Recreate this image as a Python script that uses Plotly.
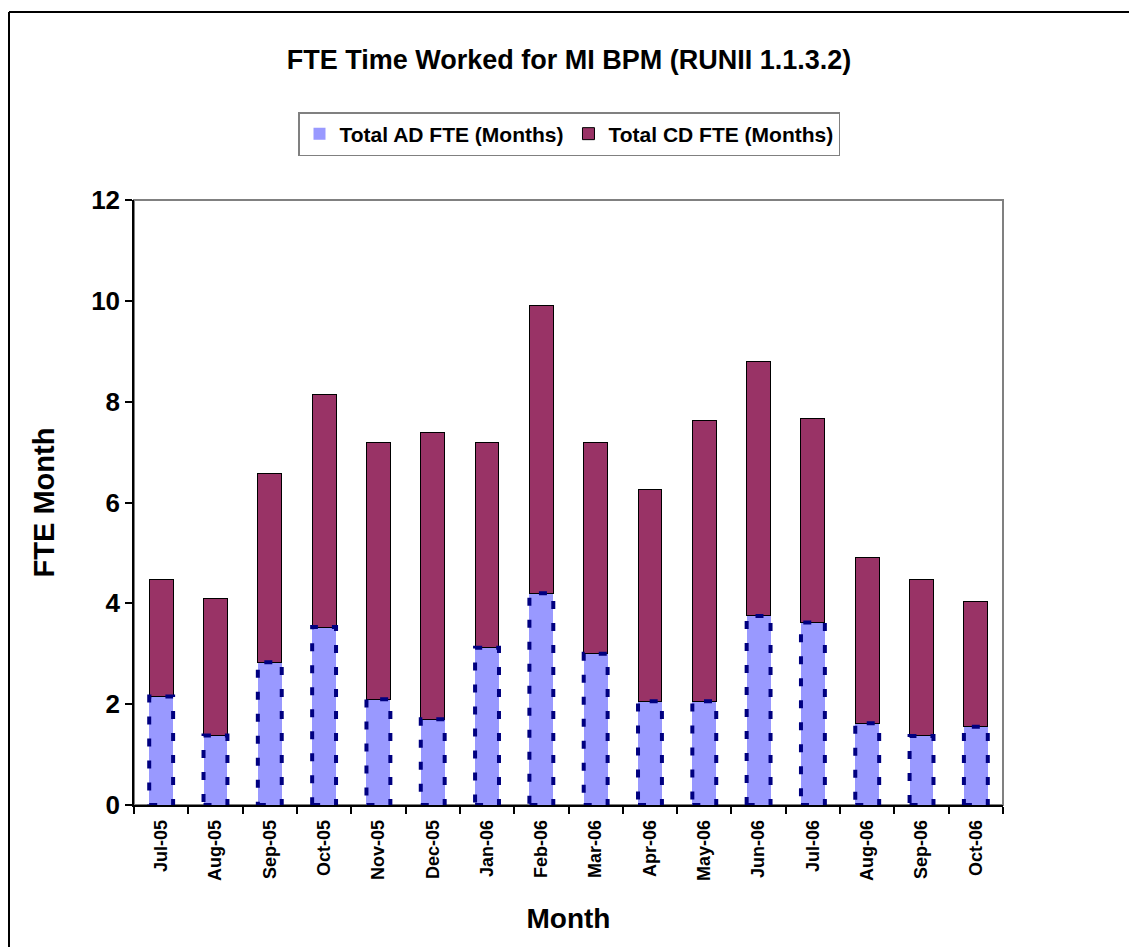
import plotly.graph_objects as go

months = ["Jul-05", "Aug-05", "Sep-05", "Oct-05", "Nov-05", "Dec-05", "Jan-06", "Feb-06",
          "Mar-06", "Apr-06", "May-06", "Jun-06", "Jul-06", "Aug-06", "Sep-06", "Oct-06"]
ad_fte = [2.15, 1.38, 2.83, 3.53, 2.10, 1.70, 3.12, 4.20, 3.00, 2.06, 2.06, 3.75, 3.62, 1.62, 1.37, 1.55]
total_fte = [4.47, 4.10, 6.58, 8.15, 7.20, 7.38, 7.20, 9.90, 7.20, 6.25, 7.63, 8.80, 7.67, 4.90, 4.47, 4.03]
cd_fte = [round(t - a, 2) for t, a in zip(total_fte, ad_fte)]

FONT = "Arial, Liberation Sans, sans-serif"
BW = 0.44
W, H = 1137, 947
L, R, T, B = 126, 142, 192, 150
PW, PH = W - L - R, H - T - B

fig = go.Figure()
fig.add_trace(go.Bar(x=list(range(len(months))), y=ad_fte, name="<b>Total AD FTE (Months)</b>",
                     marker=dict(color="#9999FF", line=dict(color="#000080", width=0)),
                     width=BW))
fig.add_trace(go.Bar(x=list(range(len(months))), y=cd_fte, name="<b>Total CD FTE (Months)</b>",
                     marker=dict(color="#993366", line=dict(color="#000000", width=1)),
                     width=BW))

# dashed navy outline on AD bars, derived from data
for i, v in enumerate(ad_fte):
    fig.add_shape(type="rect", xref="x", yref="y", x0=i - BW / 2, x1=i + BW / 2, y0=0, y1=v,
                  line=dict(color="#000080", width=4, dash="8px,14px"), layer="above")

# plot-area frame (gray)
fig.add_shape(type="rect", xref="paper", yref="paper", x0=0, x1=1, y0=0, y1=1,
              line=dict(color="#808080", width=2), layer="below")

# outer chart border (left and top edges visible)
bx0 = (1 - L) / PW
by1 = (T + PH - 4) / PH
fig.add_shape(type="line", xref="paper", yref="paper", x0=bx0, x1=bx0, y0=-(B + 5) / PH, y1=by1,
              line=dict(color="#000000", width=2), layer="below")
fig.add_shape(type="line", xref="paper", yref="paper", x0=bx0, x1=(W - L + 5) / PW, y0=by1, y1=by1,
              line=dict(color="#000000", width=2), layer="below")

fig.update_layout(
    barmode="stack",
    width=W, height=H,
    margin=dict(l=L, r=R, t=T, b=B, autoexpand=False),
    paper_bgcolor="white", plot_bgcolor="white",
    font=dict(family=FONT, color="black"),
    title=dict(text="<b>FTE Time Worked for MI BPM (RUNII 1.1.3.2)</b>", x=561 / W, xanchor="center",
               xref="container", y=1 - 52 / H, yanchor="middle", yref="container",
               font=dict(size=27, family=FONT)),
    legend=dict(orientation="h", x=(561 - L) / PW, xanchor="center", y=1 + (T - 104) / PH,
                yanchor="top", bordercolor="#808080", borderwidth=1.5,
                font=dict(size=21, family=FONT), traceorder="normal", itemwidth=30,
                tracegroupgap=0),
    showlegend=True,
)
fig.update_xaxes(
    tickmode="array", tickvals=list(range(len(months))), ticktext=["<b>%s</b>" % m for m in months],
    tickangle=-90, tickfont=dict(size=18, family=FONT), ticklabelstandoff=6,
    range=[-0.5, len(months) - 0.5],
    showline=True, linecolor="black", linewidth=1.5,
    ticks="", showgrid=False, zeroline=False,
    title=dict(text="<b>Month</b>", font=dict(size=28, family=FONT), standoff=28),
)
fig.update_xaxes(minor=dict(tickmode="array", tickvals=[i - 0.5 for i in range(len(months) + 1)],
                            ticks="outside", ticklen=7, tickcolor="black", tickwidth=1.5, showgrid=False))
fig.update_yaxes(
    range=[0, 12], dtick=2, tickfont=dict(size=26, family=FONT),
    tickprefix="<b>", ticksuffix="</b>",
    showline=True, linecolor="black", linewidth=1.5,
    ticks="outside", ticklen=7, tickcolor="black", tickwidth=1.5,
    showgrid=False, zeroline=False,
    title=dict(text="<b>FTE Month</b>", font=dict(size=29, family=FONT), standoff=28),
)

fig.write_html("out.html")
